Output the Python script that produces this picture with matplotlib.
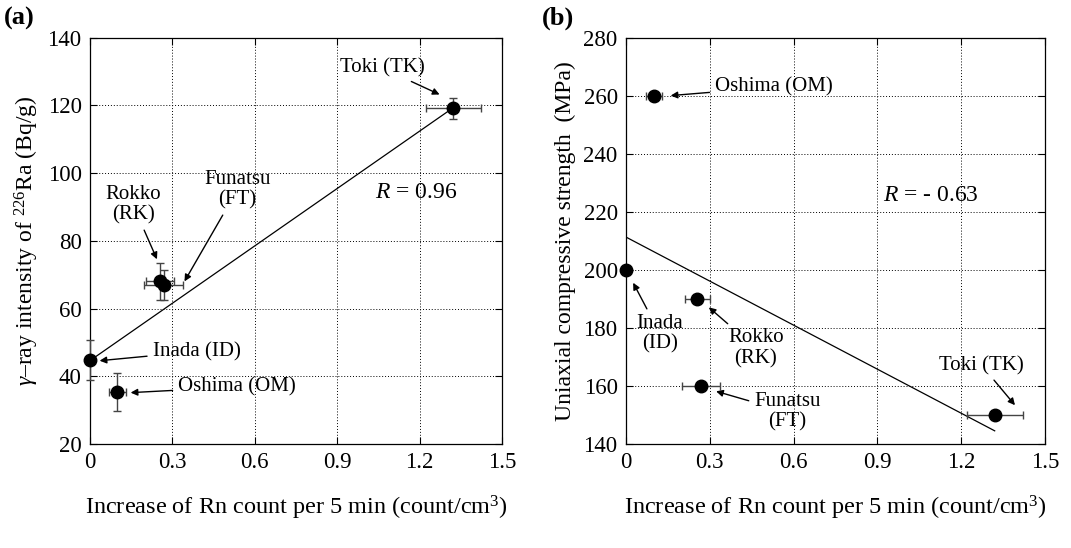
import numpy as np
import matplotlib.pyplot as plt

plt.rcParams['font.family'] = ['Liberation Serif', 'DejaVu Serif']
plt.rcParams['mathtext.fontset'] = 'custom'
plt.rcParams['mathtext.rm'] = 'Liberation Serif'
plt.rcParams['mathtext.it'] = 'Liberation Serif:italic'

# sites: Inada, Oshima, Rokko, Funatsu, Toki
sites = ['Inada (ID)', 'Oshima (OM)', 'Rokko (RK)', 'Funatsu (FT)', 'Toki (TK)']
rn = [0.0, 0.10, 0.255, 0.268, 1.322]
rn_err_a = [0.0, 0.03, 0.05, 0.07, 0.10]
ra = [44.8, 35.3, 68.0, 67.0, 119.2]
ra_err = [5.8, 5.5, 5.4, 4.5, 3.1]

rn_err_b = [0.0, 0.03, 0.045, 0.067, 0.10]
ucs = [200, 260, 190, 160, 150]

fit_a_x = [0.0, 1.32]
fit_a_y = [44.6, 119.2]
fit_b_x = [0.0, 1.32]
fit_b_y = [211.3, 144.5]

fig = plt.figure(figsize=(10.71, 5.48), dpi=100)
ax1 = fig.add_axes([0.084, 0.19, 0.3847, 0.741])
ax2 = fig.add_axes([0.5845, 0.19, 0.3912, 0.741])

fs = 16.5
lfs = 17.5
afs = 15
arrow = dict(arrowstyle='-|>', color='black', lw=1.0, mutation_scale=10)


def style(ax, ylim, yticks):
    ax.set_xlim(0, 1.5)
    ax.set_ylim(*ylim)
    ax.set_xticks([0, 0.3, 0.6, 0.9, 1.2, 1.5])
    ax.set_xticklabels(['0', '0.3', '0.6', '0.9', '1.2', '1.5'])
    ax.set_yticks(yticks)
    ax.tick_params(direction='in', length=5, width=0.8, labelsize=fs,
                   top=True, right=True, pad=6)
    ax.grid(True, color='black', linestyle=(0, (1, 2)), linewidth=0.7)
    for s in ax.spines.values():
        s.set_linewidth(0.9)
    ax.set_xlabel('Increase of Rn count per 5 min (count/cm$^3$)',
                  fontsize=lfs, labelpad=15)


# (a)
ax1.errorbar(rn, ra, xerr=rn_err_a, yerr=ra_err, fmt='o', color='black',
             ms=9, ecolor='#444444', elinewidth=1.0, capsize=3, zorder=3,
             clip_on=False)
ax1.plot(fit_a_x, fit_a_y, color='black', lw=0.9)
style(ax1, (20, 140), np.arange(20, 141, 20))
ax1.set_ylabel(r'$\gamma$–ray intensity of $^{226}$Ra (Bq/g)', fontsize=17,
               labelpad=5)

ax1.annotate('Toki (TK)', xy=(1.282, 122.9), xytext=(1.063, 131.1),
             ha='center', va='center', fontsize=afs, arrowprops=arrow)
ax1.annotate('Rokko\n(RK)', xy=(0.248, 73.8), xytext=(0.157, 90.6),
             ha='center', va='center', fontsize=afs, arrowprops=arrow,
             linespacing=1.1)
ax1.annotate('Funatsu\n(FT)', xy=(0.339, 67.3), xytext=(0.536, 95.0),
             ha='center', va='center', fontsize=afs, arrowprops=arrow,
             linespacing=1.1)
ax1.annotate('Inada (ID)', xy=(0.025, 44.5), xytext=(0.228, 47.3),
             ha='left', va='center', fontsize=afs, arrowprops=arrow)
ax1.annotate('Oshima (OM)', xy=(0.138, 35.1), xytext=(0.321, 36.8),
             ha='left', va='center', fontsize=afs, arrowprops=arrow)
ax1.text(1.038, 94.3, r'$R$ = 0.96', ha='left', va='center', fontsize=17)

# (b)
ax2.errorbar(rn, ucs, xerr=rn_err_b, fmt='o', color='black', ms=9,
             ecolor='#444444', elinewidth=1.0, capsize=3, zorder=3,
             clip_on=False)
ax2.plot(fit_b_x, fit_b_y, color='black', lw=0.9)
style(ax2, (140, 280), np.arange(140, 281, 20))
ax2.set_ylabel('Uniaxial compressive strength  (MPa)', fontsize=17,
               labelpad=5)

ax2.annotate('Oshima (OM)', xy=(0.150, 260), xytext=(0.319, 263.0),
             ha='left', va='center', fontsize=afs, arrowprops=arrow)
ax2.annotate('Inada\n(ID)', xy=(0.021, 196.4), xytext=(0.122, 177.9),
             ha='center', va='center', fontsize=afs, arrowprops=arrow,
             linespacing=1.1)
ax2.annotate('Rokko\n(RK)', xy=(0.289, 187.7), xytext=(0.465, 173.0),
             ha='center', va='center', fontsize=afs, arrowprops=arrow,
             linespacing=1.1)
ax2.annotate('Funatsu\n(FT)', xy=(0.313, 158.4), xytext=(0.578, 151.0),
             ha='center', va='center', fontsize=afs, arrowprops=arrow,
             linespacing=1.1)
ax2.annotate('Toki (TK)', xy=(1.399, 152.6), xytext=(1.274, 167.0),
             ha='center', va='center', fontsize=afs, arrowprops=arrow)
ax2.text(0.921, 225.7, r'$R$ = - 0.63', ha='left', va='center', fontsize=17)

fig.text(0.004, 0.966, '(a)', fontsize=19, fontweight='bold', va='center')
fig.text(0.506, 0.966, '(b)', fontsize=19, fontweight='bold', va='center')

fig.savefig('out.png', dpi=100)
